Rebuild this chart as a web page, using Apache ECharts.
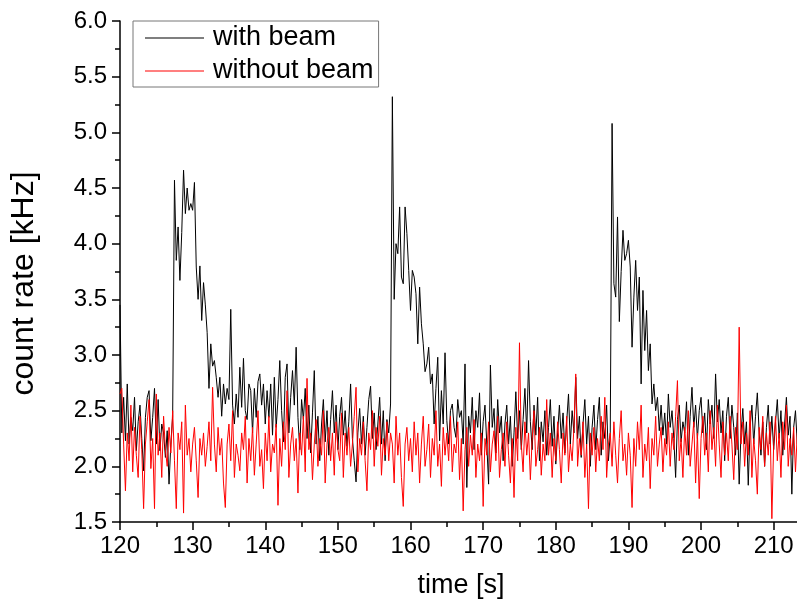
<!DOCTYPE html>
<html><head><meta charset="utf-8">
<script src="https://cdn.jsdelivr.net/npm/echarts@6/dist/echarts.min.js"></script>
<style>html,body{margin:0;padding:0;background:#fff}#c{width:797px;height:608px}</style>
</head><body><div id="c"></div>
<script>
const tStart = 120, tStep = 0.25;
const seriesNames = ['with beam', 'without beam'];
const withBeam = [
3.45,2.3,2.62,2.23,2.74,2.2,2.44,2.32,2.62,2.14,2.4,2.55,2.25,1.96,2.44,2.62,2.68,2.23,2.44,2.7,2.2,2.6,2.14,2.38,2.3,2.08,2.32,1.84,2.2,2.45,
4.57,3.85,4.15,3.67,4.1,4.66,4.27,4.5,4.3,4.36,4.3,4.55,3.79,3.5,3.8,3.31,3.65,3.45,3.2,2.7,3.1,2.9,2.95,2.8,2.62,2.8,2.45,2.74,2.56,2.7,2.6,3.41,2.55,2.38,2.65,
2.44,2.89,2.53,2.97,2.5,2.42,2.74,2.68,2.3,2.7,
2.44,2.76,2.83,2.55,2.74,2.38,2.68,2.44,2.74,2.28,
2.8,2.35,2.6,2.95,2.5,2.22,2.8,2.92,2.3,2.62,
2.86,2.55,3.07,2.44,2.15,2.6,2.42,2.7,2.25,2.55,
2.12,2.48,2.86,2.2,2.45,2.05,2.38,2.6,2.22,2.5,
2.1,2.42,2.68,2.3,2.55,2.15,2.45,2.62,2.28,2.5,
2.18,2.4,2.74,2.25,2.05,1.86,2.3,2.52,2.2,2.45,
2.1,2.35,2.6,2.72,2.25,2.48,2.15,2.38,2.62,2.2,
2.5,2.05,2.42,2.3,2.56,
5.32,3.5,4.0,3.91,4.33,3.7,3.64,4.33,4.09,3.76,3.4,3.76,3.7,3.55,3.1,3.61,3.28,3.1,2.85,2.92,3.07,2.74,2.83,2.38,2.7,2.98,2.23,
2.68,2.38,3.02,2.41,2.2,2.5,2.56,2.35,2.26,2.6,
2.44,2.5,2.2,2.92,1.81,2.45,2.3,2.62,2.15,2.5,
2.35,2.66,2.1,2.4,2.55,2.2,1.84,2.91,2.35,2.52,
2.12,2.6,2.3,2.45,2.05,2.38,2.55,2.2,2.45,2.0,
2.3,2.67,2.25,2.5,2.15,2.42,2.7,2.3,2.95,2.4,
2.15,2.55,2.28,2.62,2.05,2.4,2.22,2.5,2.1,2.35,
2.6,2.18,2.45,2.02,2.3,2.55,2.25,2.48,2.12,2.4,
2.65,2.2,2.5,2.3,2.8,2.25,2.45,2.08,2.38,2.6,
2.2,2.45,2.0,2.35,2.55,2.15,2.42,2.62,2.1,2.4,
2.25,2.55,2.05,2.3,
5.08,3.64,3.52,4.24,3.3,3.75,4.12,3.85,3.91,4.03,3.79,3.07,3.52,3.85,3.4,3.7,2.74,3.58,3.04,3.4,2.86,3.1,2.56,2.74,2.5,
2.62,2.32,2.55,2.28,2.48,2.2,2.65,2.35,2.5,2.25,
1.9,2.42,2.55,2.22,2.4,2.3,2.58,2.1,2.45,2.71,
2.35,2.55,2.25,2.5,2.62,2.3,2.48,2.15,2.6,2.38,
2.55,2.25,2.83,2.4,2.6,2.3,2.5,2.05,2.45,2.62,
2.25,2.55,2.35,2.1,2.48,1.84,2.3,2.52,2.2,2.4,
1.83,2.35,2.55,2.2,2.45,2.66,2.3,2.1,2.4,2.0,
2.35,2.55,2.2,2.45,2.15,2.4,2.6,2.25,2.5,2.1,
2.38,2.62,2.28,2.45,1.75,2.35,2.5,2.2
];
const withoutBeam = [
2.65,2.7,2.2,1.78,2.3,2.05,2.55,1.95,2.35,2.1,1.9,2.45,2.15,1.62,2.2,2.4,2.6,1.98,2.25,1.62,
2.65,2.1,2.3,1.9,2.45,2.15,2.0,2.35,2.12,2.5,2.05,1.62,2.3,2.15,2.4,1.58,2.55,2.1,2.25,1.95,
2.2,2.35,2.05,1.72,2.25,2.1,2.3,2.0,2.18,2.4,2.05,2.71,2.2,1.95,2.35,2.1,2.25,1.85,1.63,2.2,
2.38,2.05,2.5,1.9,2.2,2.1,1.96,2.3,2.15,2.45,1.85,2.25,2.05,2.35,1.92,2.2,2.5,2.0,2.15,1.8,
2.3,2.05,2.45,1.95,2.2,2.12,2.38,1.65,2.25,2.0,2.4,2.15,2.68,1.9,2.2,2.35,2.05,2.25,1.76,2.3,
2.1,2.45,1.95,2.79,2.15,2.3,1.88,2.2,2.42,2.0,2.25,2.1,2.5,1.85,2.2,2.35,2.05,2.3,1.92,2.4,
2.15,2.05,2.48,1.9,2.3,2.1,2.35,2.0,2.2,2.45,2.71,1.95,2.25,2.1,2.4,2.05,1.78,2.3,2.15,2.5,
2.0,2.35,2.18,2.45,1.92,2.25,2.1,2.4,2.05,2.3,2.2,1.85,2.45,2.1,2.3,1.9,1.64,2.2,2.35,2.05,
2.25,1.95,2.4,2.1,2.3,1.85,2.2,2.45,2.0,2.15,2.38,1.9,2.25,2.1,2.5,2.0,2.2,1.82,2.35,2.1,
2.3,2.05,2.45,1.95,2.2,2.12,2.4,1.88,2.25,1.6,2.15,2.35,2.0,2.28,2.1,2.42,1.9,2.2,2.05,2.3,
1.64,2.25,2.1,2.4,1.95,2.2,2.32,2.05,2.45,1.9,2.15,2.3,2.0,2.4,2.1,1.85,2.25,1.72,2.35,2.05,
3.11,2.2,1.95,2.4,2.1,2.3,1.88,2.25,2.5,2.0,2.15,2.35,1.92,2.2,2.05,2.6,2.1,2.3,1.9,2.25,
2.05,2.4,2.15,1.85,2.3,2.1,2.45,1.95,2.2,2.05,2.35,2.83,2.0,2.25,2.1,2.4,1.9,2.2,1.62,2.3,
2.1,2.35,1.95,2.25,2.05,2.45,2.15,2.62,1.9,2.2,2.3,2.0,2.4,2.1,1.85,2.25,2.5,2.05,2.2,1.92,
2.3,2.1,1.63,2.25,2.0,2.4,2.15,2.55,1.9,2.2,2.05,2.35,1.8,2.25,2.1,2.45,2.0,2.2,2.35,1.95,
2.25,2.1,2.4,2.0,2.3,2.15,2.45,2.77,2.05,2.25,1.9,2.35,2.1,2.5,2.0,2.2,2.4,1.85,2.3,1.71,
2.25,2.45,2.1,2.3,1.95,2.5,2.15,2.35,2.0,2.55,2.2,1.9,2.4,2.1,2.3,2.05,2.45,2.2,1.88,2.35,
2.15,3.25,2.2,2.4,2.0,2.3,2.1,2.5,1.9,2.25,2.05,1.75,2.35,2.15,2.45,2.0,2.3,2.1,2.4,1.53,
2.2,2.45,2.05,2.3,1.9,2.4,2.15,2.55,2.0,2.25,2.1,2.35,1.95,2.3
];
const FONT = 'Liberation Sans, Arial, sans-serif';
const toPairs = arr => arr.map((v, i) => [tStart + i * tStep, v]);
const axisLineStyle = { color: '#000', width: 1.5 };
const chart = echarts.init(document.getElementById('c'), null, { renderer: 'canvas' });
chart.setOption({
  animation: false,
  backgroundColor: '#fff',
  grid: { left: 120, top: 21, width: 690, height: 501, containLabel: false, outerBoundsMode: 'none' },
  legend: {
    orient: 'vertical', left: 133, top: 21,
    padding: [2, 5, 1, 12], itemGap: 3, itemWidth: 59, itemHeight: 1,
    icon: 'rect',
    borderColor: '#777', borderWidth: 1, borderRadius: 0,
    textStyle: { fontSize: 27, lineHeight: 30, color: '#000', fontFamily: FONT, padding: [0, 0, 0, 4] },
    data: seriesNames
  },
  xAxis: {
    type: 'value', min: 120, max: 215, interval: 10,
    name: 'time [s]', nameLocation: 'middle', nameGap: 50,
    nameTextStyle: { fontSize: 27, color: '#000', fontFamily: FONT, padding: [0, 8, 0, 0] },
    axisLine: { onZero: false, lineStyle: axisLineStyle },
    axisTick: { length: 8, lineStyle: axisLineStyle },
    minorTick: { show: true, splitNumber: 2, length: 5, lineStyle: axisLineStyle },
    splitLine: { show: false },
    axisLabel: { fontSize: 24, color: '#000', fontFamily: FONT, margin: 12, showMaxLabel: false }
  },
  yAxis: {
    type: 'value', min: 1.5, max: 6.0, interval: 0.5,
    name: 'count rate [kHz]', nameLocation: 'middle', nameGap: 80, nameRotate: 90,
    nameTextStyle: { fontSize: 32, color: '#000', fontFamily: FONT, padding: [0, 24, 0, 0] },
    axisLine: { onZero: false, lineStyle: axisLineStyle },
    axisTick: { length: 8, lineStyle: axisLineStyle },
    minorTick: { show: true, splitNumber: 2, length: 5, lineStyle: axisLineStyle },
    splitLine: { show: false },
    axisLabel: { fontSize: 24, color: '#000', fontFamily: FONT, margin: 13, formatter: v => v.toFixed(1) }
  },
  series: [
    { name: seriesNames[0], type: 'line', symbol: 'none', data: toPairs(withBeam),
      lineStyle: { color: '#000', width: 1 }, itemStyle: { color: '#000' } },
    { name: seriesNames[1], type: 'line', symbol: 'none', data: toPairs(withoutBeam),
      lineStyle: { color: '#ff0000', width: 1 }, itemStyle: { color: '#ff0000' } }
  ]
});
</script>
</body></html>
